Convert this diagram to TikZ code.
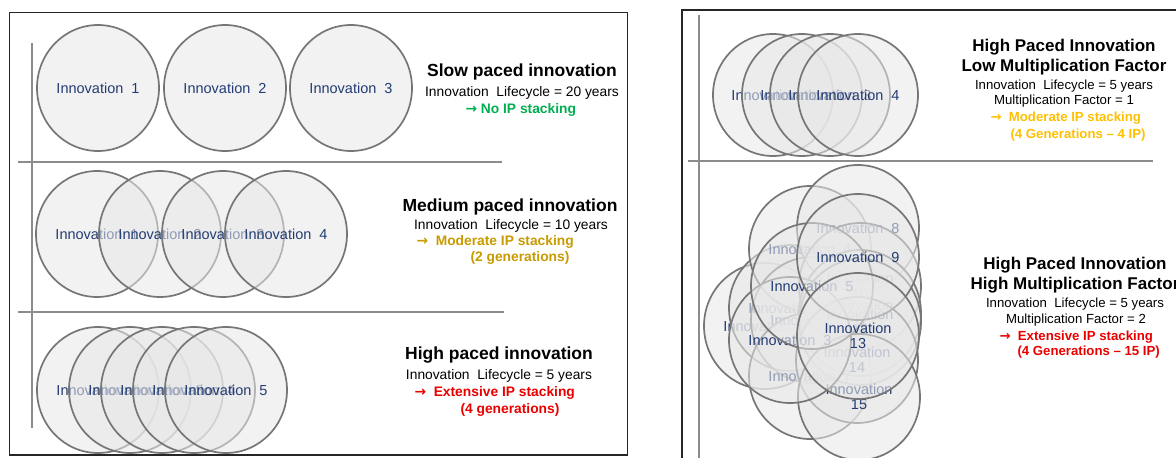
\documentclass[tikz,border=0pt]{standalone}
\usepackage{fontspec}
\setmainfont{Liberation Sans}
\newfontfamily\arrowfont{DejaVu Sans}
\newcommand{\rarr}{{\arrowfont\bfseries →}}
\usetikzlibrary{shapes.geometric}
\definecolor{navy}{RGB}{35,60,115}
\definecolor{circfill}{RGB}{232,232,232}
\definecolor{circline}{RGB}{118,118,118}
\definecolor{axisgray}{RGB}{140,140,140}
\definecolor{okgreen}{RGB}{0,176,80}
\definecolor{gold}{RGB}{200,155,0}
\definecolor{amber}{RGB}{255,192,0}
\definecolor{alarm}{RGB}{235,0,0}
\begin{document}
\begin{tikzpicture}[x=1pt,y=-1pt,
  inno/.style={ellipse, draw=circline, line width=1.7pt, fill=circfill,
    fill opacity=0.55, draw opacity=1, text opacity=1, text=navy,
    minimum width=122pt, minimum height=126pt, inner sep=0pt, align=center,
    font=\fontsize{14.5}{15}\selectfont},
  innosmall/.style={inno, minimum width=120pt, minimum height=122pt},
  frame/.style={draw=black!85, line width=1.3pt},
  axisline/.style={draw=axisgray, line width=2.2pt},
  sepline/.style={draw=axisgray, line width=1.8pt},
  titleL/.style={font=\fontsize{17.5}{20}\selectfont\bfseries},
  titleR/.style={font=\fontsize{17}{20}\selectfont\bfseries},
  bodyL/.style={font=\fontsize{13.8}{16}\selectfont},
  bodyR/.style={font=\fontsize{13.2}{16}\selectfont},
  statusL/.style={font=\fontsize{13.8}{16}\selectfont\bfseries, anchor=west},
  statusR/.style={font=\fontsize{13.2}{16}\selectfont\bfseries, anchor=west}]
\useasboundingbox (0,0) rectangle (1176,458);
\clip (0,0) rectangle (1176,458);
\fill[white] (0,0) rectangle (1176,458);

% ---------- left panel ----------
\draw[frame] (9.5,12.5) rectangle (627.5,455);
\draw[axisline] (32,43) -- (32,428);
\draw[sepline] (18,162) -- (502,162);
\draw[sepline] (18,312) -- (504,312);

\node[inno] (a1) at (98,88) {Innovation~ 1};
\node[inno] (a2) at (225,88) {Innovation~ 2};
\node[inno] (a3) at (351,88) {Innovation~ 3};

\node[inno] (b1) at (97,234) {Innovation~ 1};
\node[inno] (b2) at (160,234) {Innovation~ 2};
\node[inno] (b3) at (223,234) {Innovation~ 3};
\node[inno] (b4) at (286,234) {Innovation~ 4};

\node[inno] (c1) at (98,390) {Innovation~ 1};
\node[inno] (c2) at (130,390) {Innovation~ 2};
\node[inno] (c3) at (162,390) {Innovation~ 3};
\node[inno] (c4) at (194,390) {Innovation~ 4};
\node[inno] (c5) at (226,390) {Innovation~ 5};

\node[titleL] (t1) at (522,72) {Slow paced innovation};
\node[bodyL] (l1) at (522,93) {Innovation~ Lifecycle = 20 years};
\node[statusL, text=okgreen] (s1) at (462,110) {\rarr\ No IP stacking};

\node[titleL] (t2) at (510,207) {Medium paced innovation};
\node[bodyL] (l2) at (511,226) {Innovation~ Lifecycle = 10 years};
\node[statusL, text=gold] (s2) at (413,242) {\rarr~ Moderate IP stacking};
\node[statusL, text=gold] (g2) at (467,258) {(2 generations)};

\node[titleL] (t3) at (499,355) {High paced innovation};
\node[bodyL] (l3) at (499,376) {Innovation~ Lifecycle = 5 years};
\node[statusL, text=alarm] (s3) at (411,393) {\rarr~ Extensive IP stacking};
\node[statusL, text=alarm] (g3) at (457,410) {(4 generations)};

% ---------- right panel ----------
\draw[frame] (682,10) rectangle (1200,480);
\draw[axisline] (699,15) -- (699,470);
\draw[sepline] (688,161) -- (1153,161);

\node[innosmall] (d1) at (773,95) {Innovation~ 1};
\node[innosmall] (d2) at (802,95) {Innovation~ 2};
\node[innosmall] (d3) at (830,95) {Innovation~ 3};
\node[innosmall] (d4) at (858,95) {Innovation~ 4};

\node[titleR] (t4) at (1064,47) {High Paced Innovation};
\node[titleR] (t4b) at (1064,67) {Low Multiplication Factor};
\node[bodyR] (l4) at (1064,86) {Innovation~ Lifecycle = 5 years};
\node[bodyR] (m4) at (1064,101) {Multiplication Factor = 1};
\node[statusR, text=amber] (s4) at (987,118) {\rarr~ Moderate IP stacking};
\node[statusR, text=amber] (g4) at (1007,135) {(4 Generations -- 4 IP)};

% cluster (drawing order gives the stacking)
\node[inno] (e1) at (765,326) {Innovation~ 1};
\node[inno] (e2) at (790,308) {Innovation~ 2};
\node[inno] (e4) at (810,249) {Innovation~ 4};
\node[inno] (e6) at (812,320) {Innovation~ 6};
\node[inno] (e7) at (810,376) {Innovation~ 7};
\node[inno] (e8) at (858,228) {Innovation~ 8};
\node[inno] (e10) at (860,286) {Innovation\\10};
\node[inno] (e11) at (860,313) {Innovation\\11};
\node[inno] (e12) at (860,322) {Innovation\\12};
\node[inno] (e14) at (857,360) {Innovation\\14};
\node[inno] (e15) at (859,397) {Innovation\\15};
\node[inno] (e3) at (790,340) {Innovation~ 3};
\node[inno] (e5) at (812,286) {Innovation~ 5};
\node[inno] (e9) at (858,257) {Innovation~ 9};
\node[inno] (e13) at (858,336) {Innovation\\13};

\node[titleR] (t5) at (1075,265) {High Paced Innovation};
\node[titleR] (t5b) at (1075,285) {High Multiplication Factor};
\node[bodyR] (l5) at (1075,304) {Innovation~ Lifecycle = 5 years};
\node[bodyR] (m5) at (1076,320) {Multiplication Factor = 2};
\node[statusR, text=alarm] (s5) at (996,337) {\rarr~ Extensive IP stacking};
\node[statusR, text=alarm] (g5) at (1014,352) {(4 Generations -- 15 IP)};
\end{tikzpicture}
\end{document}
